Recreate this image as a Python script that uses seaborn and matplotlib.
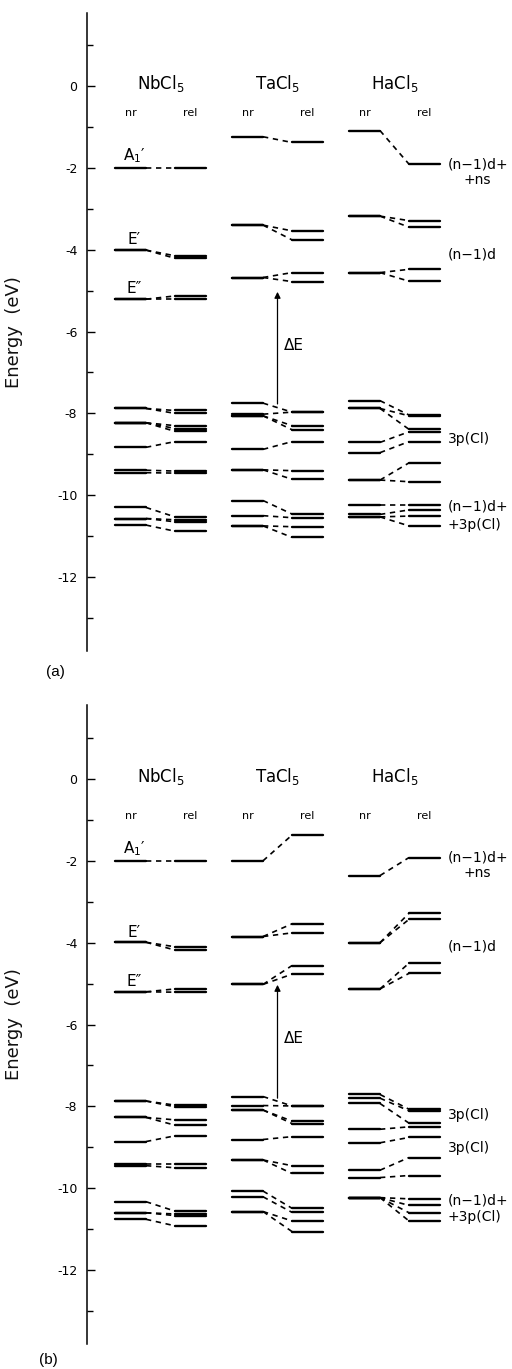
import pandas as pd
import matplotlib
matplotlib.use('Agg')
import matplotlib.pyplot as plt
import seaborn as sns

sns.set_style('ticks')
plt.rcParams['font.family'] = ['DejaVu Sans']
plt.rcParams['axes.unicode_minus'] = False
plt.rcParams['text.color'] = 'black'
plt.rcParams['axes.labelcolor'] = 'black'
plt.rcParams['ytick.color'] = 'black'
plt.rcParams['axes.edgecolor'] = 'black'

# energy levels (eV): each nr level is joined to a rel level, pairs in order
compounds = ['NbCl$_5$', 'TaCl$_5$', 'HaCl$_5$']

# panel (a)
a_nb_nr = [-2.0, -4.01, -4.01, -5.21, -5.21, -7.88, -7.88, -8.23, -8.23, -8.23, -8.83,
           -9.39, -9.45, -10.30, -10.57, -10.57, -10.73]
a_nb_rel = [-2.0, -4.15, -4.21, -5.13, -5.21, -7.93, -8.0, -8.30, -8.37, -8.44, -8.69,
            -9.41, -9.46, -10.53, -10.60, -10.65, -10.88]
a_ta_nr = [-1.24, -3.40, -3.40, -4.68, -4.68, -7.75, -8.02, -8.06, -8.06, -8.88,
           -9.38, -9.38, -10.13, -10.50, -10.75, -10.75]
a_ta_rel = [-1.38, -3.54, -3.76, -4.56, -4.78, -7.97, -7.97, -8.30, -8.40, -8.69,
            -9.40, -9.61, -10.46, -10.55, -10.77, -11.03]
a_ha_nr = [-1.09, -3.18, -3.18, -4.56, -4.56, -7.69, -7.88, -7.88, -8.71, -8.96,
           -9.63, -9.63, -10.24, -10.47, -10.53, -10.53]
a_ha_rel = [-1.91, -3.29, -3.45, -4.48, -4.77, -8.04, -8.06, -8.39, -8.45, -8.69,
            -9.21, -9.67, -10.24, -10.36, -10.51, -10.75]

# panel (b)
b_nb_nr = [-2.0, -3.99, -3.99, -5.20, -5.20, -7.87, -7.87, -8.27, -8.27, -8.86,
           -9.41, -9.45, -10.33, -10.60, -10.60, -10.76]
b_nb_rel = [-2.0, -4.10, -4.18, -5.13, -5.21, -7.97, -8.01, -8.33, -8.46, -8.72,
            -9.41, -9.50, -10.56, -10.63, -10.67, -10.92]
b_ta_nr = [-2.0, -3.85, -3.85, -5.02, -5.02, -7.76, -7.98, -8.09, -8.09, -8.81,
           -9.31, -9.31, -10.07, -10.21, -10.57, -10.57]
b_ta_rel = [-1.37, -3.54, -3.76, -4.56, -4.77, -7.99, -7.99, -8.36, -8.42, -8.74,
            -9.45, -9.64, -10.49, -10.59, -10.80, -11.06]
b_ha_nr = [-2.36, -4.00, -4.00, -5.13, -5.13, -7.71, -7.80, -7.93, -8.56, -8.89,
           -9.56, -9.74, -10.23, -10.23, -10.23, -10.23]
b_ha_rel = [-1.92, -3.28, -3.43, -4.50, -4.75, -8.07, -8.11, -8.41, -8.50, -8.76,
            -9.25, -9.69, -10.26, -10.42, -10.60, -10.80]

# side labels (text, energy)
a_side = [('(n\u22121)d+', -1.93), ('+ns', -2.30), ('(n\u22121)d', -4.11),
          ('3p(Cl)', -8.62), ('(n\u22121)d+', -10.28), ('+3p(Cl)', -10.72)]
b_side = [('(n\u22121)d+', -1.91), ('+ns', -2.30), ('(n\u22121)d', -4.10),
          ('3p(Cl)', -8.21), ('3p(Cl)', -9.02), ('(n\u22121)d+', -10.30), ('+3p(Cl)', -10.70)]
sym_labels = [('A$_1$\u2032', -2.0), ('E\u2032', -4.0), ('E\u2033', -5.2)]
a_gap = (-7.77, -5.03)
b_gap = (-7.80, -5.03)

# layout (pixels, x measured from the energy axis)
px_eV = 40.92
group_x = [28, 145, 262]
lev_w, link_w = 31, 29


def build_frames(pairs):
    lev, link = [], []
    seg = 0
    for g, (nr, rel) in enumerate(pairs):
        x0 = group_x[g]
        for e1, e2 in zip(nr, rel):
            for xa, xb, y1, y2, rows in [(x0, x0 + lev_w, e1, e1, lev),
                                         (x0 + lev_w + link_w, x0 + 2 * lev_w + link_w, e2, e2, lev),
                                         (x0 + lev_w, x0 + lev_w + link_w, e1, e2, link)]:
                rows.append({'x': xa, 'E': y1, 'seg': seg})
                rows.append({'x': xb, 'E': y2, 'seg': seg})
                seg += 1
    return pd.DataFrame(lev), pd.DataFrame(link)


def draw_panel(ax, pairs, side, gap, zero_px, top_px, bot_px, sub_y, tag, tag_px):
    lev, link = build_frames(pairs)
    sns.lineplot(data=lev, x='x', y='E', units='seg', estimator=None, sort=False,
                 color='black', lw=1.7, legend=False, ax=ax)
    sns.lineplot(data=link, x='x', y='E', units='seg', estimator=None, sort=False,
                 color='black', lw=1.2, linestyle=(0, (3.2, 2.8)), legend=False, ax=ax)
    ax.set_xlim(0, 425)
    ax.set_ylim(-(bot_px - zero_px) / px_eV, (zero_px - top_px) / px_eV)
    ax.set_xticks([])
    ax.set_xlabel('')
    ax.set_yticks(range(-12, 1, 2))
    ax.set_yticks(range(-13, 2, 2), minor=True)
    ax.set_yticklabels([str(v) for v in range(-12, 1, 2)], fontsize=9)
    ax.tick_params(axis='y', which='major', direction='in', length=6, width=1, pad=7)
    ax.tick_params(axis='y', which='minor', direction='in', length=4, width=1)
    for s in ['top', 'right', 'bottom']:
        ax.spines[s].set_visible(False)
    ax.spines['left'].set_linewidth(1.1)
    ax.set_ylabel('Energy  (eV)', fontsize=13, color='#111111')
    ax.yaxis.set_label_coords(-0.15, 0.5)

    for g, name in enumerate(compounds):
        x0 = group_x[g]
        ax.text(x0 + lev_w + link_w / 2, 0.07, name, ha='center', va='center', fontsize=12)
        ax.text(x0 + lev_w / 2, sub_y, 'nr', ha='center', va='center', fontsize=8)
        ax.text(x0 + 1.5 * lev_w + link_w, sub_y, 'rel', ha='center', va='center', fontsize=8)
    for txt, e in sym_labels:
        ax.text(group_x[0] + 19, e + 0.06, txt, ha='center', va='bottom', fontsize=11)
    for txt, e in side:
        if txt == '+ns':
            ax.text(390, e, txt, ha='center', va='center', fontsize=10, clip_on=False)
        else:
            ax.text(361, e, txt, ha='left', va='center', fontsize=10, clip_on=False)

    ax_x = group_x[1] + lev_w + link_w / 2
    ax.annotate('', xy=(ax_x, gap[1]), xytext=(ax_x, gap[0]),
                arrowprops=dict(arrowstyle='-|>', color='black', lw=0.9,
                                mutation_scale=9, shrinkA=0, shrinkB=0))
    ax.text(ax_x + 6, -6.33, '\u0394E', ha='left', va='center', fontsize=11)
    fig.text(tag_px[0] / 512, 1 - tag_px[1] / 1369, tag, ha='center', va='center',
             fontsize=11, family='Liberation Sans')


fig = plt.figure(figsize=(5.12, 13.69), dpi=100)
ax_a = fig.add_axes([87 / 512, 1 - 651 / 1369, 425 / 512, (651 - 13) / 1369])
ax_b = fig.add_axes([87 / 512, 1 - 1344 / 1369, 425 / 512, (1344 - 705) / 1369])

draw_panel(ax_a, [(a_nb_nr, a_nb_rel), (a_ta_nr, a_ta_rel), (a_ha_nr, a_ha_rel)],
           a_side, a_gap, 86, 13, 651, -0.67, '(a)', (55, 672))
draw_panel(ax_b, [(b_nb_nr, b_nb_rel), (b_ta_nr, b_ta_rel), (b_ha_nr, b_ha_rel)],
           b_side, b_gap, 779, 705, 1344, -0.9, '(b)', (48, 1360))

fig.savefig('out.png', dpi=100)
